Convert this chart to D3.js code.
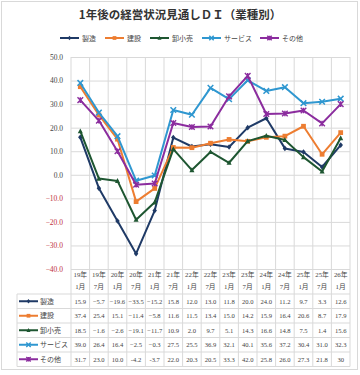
<!DOCTYPE html>
<html><head><meta charset="utf-8">
<script src="https://cdn.jsdelivr.net/npm/d3@7"></script>
<style>
html,body{margin:0;padding:0;background:#fff;}
svg{display:block;}
</style></head>
<body>
<svg id="c" width="360" height="375"></svg>
<script>
const title = "1年後の経営状況見通しＤＩ（業種別）";
const years  = ["19年","19年","20年","20年","21年","21年","22年","22年","23年","23年","24年","24年","25年","25年","26年"];
const months = ["1月","7月","1月","7月","1月","7月","1月","7月","1月","7月","1月","7月","1月","7月","1月"];
const categories = years.map((y,i)=>y+months[i]);
const seriesNames = ["製造","建設","卸小売","サービス","その他"];
const seizo    = [15.9,-5.7,-19.6,-33.5,-15.2,15.8,12.0,13.0,11.8,20.0,24.0,11.2,9.7,3.3,12.6];
const kensetsu = [37.4,25.4,15.1,-11.4,-5.8,11.6,11.5,13.4,15.0,14.2,15.9,16.4,20.6,8.7,17.9];
const oroshi   = [18.5,-1.6,-2.6,-19.1,-11.7,10.9,2.0,9.7,5.1,14.3,16.6,14.8,7.5,1.4,15.6];
const service  = [39.0,26.4,16.4,-2.5,-0.3,27.5,25.5,36.9,32.1,40.1,35.6,37.2,30.4,31.0,32.3];
const sonota   = [31.7,23.0,10.0,-4.2,-3.7,22.0,20.3,20.5,33.3,42.0,25.8,26.0,27.3,21.8,30];
const tableText = {"その他":["31.7","23.0","10.0","-4.2","-3.7","22.0","20.3","20.5","33.3","42.0","25.8","26.0","27.3","21.8","30"]};
const yTicks = [-40,-30,-20,-10,0,10,20,30,40,50];

const colors = ["#1f3a66","#ed7d31","#1e5631","#2f97d0","#8b2c9e"];
const markers = ["diamond","square","triangle","cross","star"];
const data = [seizo,kensetsu,oroshi,service,sonota];

const svg = d3.select("#c");
const serif = "'Liberation Serif','DejaVu Serif','Noto Sans CJK JP',serif";
const cjk = "'Noto Sans CJK JP',sans-serif";

// frame
svg.append("rect").attr("x",1.5).attr("y",1.5).attr("width",356).attr("height",368)
  .attr("fill","#fff").attr("stroke","#d9d9d9");

const L=71,R=350,T=57,B=269;
const x = d3.scaleBand().domain(categories).range([L,R]).padding(0);
const y = d3.scaleLinear().domain([-40,50]).range([B,T]);

// title
svg.append("text").attr("x",180).attr("y",19).attr("text-anchor","middle")
  .attr("font-family",cjk).attr("font-weight","bold").attr("font-size",11.5)
  .attr("fill","#333").text(title);

// grid horizontal via axis
const gy = svg.append("g").attr("transform",`translate(${L},0)`)
  .call(d3.axisLeft(y).tickValues(yTicks).tickFormat(d3.format(".1f")).tickSize(-(R-L)).tickPadding(8));
gy.select(".domain").remove();
gy.selectAll(".tick line").attr("stroke","#d9d9d9").attr("stroke-width",1);
gy.selectAll(".tick text").attr("font-family",serif).attr("font-size",7.5)
  .attr("fill",d=>d<0?"#c0303c":"#444");

// table geometry
const tTop=294, rowH=14.5, tLeft=17;
const tBottom = tTop + rowH*seriesNames.length;

// vertical grid lines (plot + table)
const bounds = categories.map(c=>x(c)).concat([R]);
svg.append("g").selectAll("line").data(bounds).join("line")
  .attr("x1",d=>d).attr("x2",d=>d).attr("y1",T).attr("y2",tBottom)
  .attr("stroke","#d9d9d9");

// table horizontal lines
const hl = d3.range(seriesNames.length+1).map(i=>tTop+i*rowH);
svg.append("g").selectAll("line").data(hl).join("line")
  .attr("x1",tLeft).attr("x2",R).attr("y1",d=>d).attr("y2",d=>d).attr("stroke","#d9d9d9");
svg.append("line").attr("x1",tLeft).attr("x2",tLeft).attr("y1",tTop).attr("y2",tBottom).attr("stroke","#d9d9d9");

// header labels
const hdr = svg.append("g").attr("font-family",serif).attr("font-size",6.8).attr("fill","#444").attr("text-anchor","middle");
hdr.selectAll("text.y").data(categories).join("text").attr("class","y")
  .attr("x",c=>x(c)+x.bandwidth()/2).attr("y",277).text((c,i)=>years[i]);
hdr.selectAll("text.m").data(categories).join("text").attr("class","m")
  .attr("x",c=>x(c)+x.bandwidth()/2).attr("y",289).text((c,i)=>months[i]);

// marker drawing
function drawMarker(g, type, color, cx, cy, s){
  if(type==="diamond"){
    g.append("path").attr("d",`M${cx},${cy-s}L${cx+s*0.8},${cy}L${cx},${cy+s}L${cx-s*0.8},${cy}Z`).attr("fill",color);
  } else if(type==="square"){
    g.append("rect").attr("x",cx-s*0.85).attr("y",cy-s*0.85).attr("width",s*1.7).attr("height",s*1.7).attr("fill",color);
  } else if(type==="triangle"){
    g.append("path").attr("d",`M${cx},${cy-s}L${cx+s*0.9},${cy+s*0.75}L${cx-s*0.9},${cy+s*0.75}Z`).attr("fill",color);
  } else if(type==="cross"){
    g.append("path").attr("d",`M${cx-s},${cy-s}L${cx+s},${cy+s}M${cx-s},${cy+s}L${cx+s},${cy-s}`).attr("stroke",color).attr("stroke-width",1.5);
  } else {
    g.append("path").attr("d",`M${cx-s},${cy-s}L${cx+s},${cy+s}M${cx-s},${cy+s}L${cx+s},${cy-s}M${cx},${cy-s}L${cx},${cy+s}`).attr("stroke",color).attr("stroke-width",1.4);
  }
}

// lines
const line = d3.line().x((d,i)=>x(categories[i])+x.bandwidth()/2).y(d=>y(d));
data.forEach((vals,si)=>{
  const g = svg.append("g");
  g.append("path").datum(vals).attr("d",line).attr("fill","none")
    .attr("stroke",colors[si]).attr("stroke-width",2).attr("stroke-linejoin","round");
  vals.forEach((v,i)=>drawMarker(g,markers[si],colors[si],x(categories[i])+x.bandwidth()/2,y(v),2.8));
});

// legend
const legX = [60,105,150,202,260];
seriesNames.forEach((n,i)=>{
  const g = svg.append("g");
  g.append("line").attr("x1",legX[i]).attr("x2",legX[i]+19).attr("y1",38).attr("y2",38)
    .attr("stroke",colors[i]).attr("stroke-width",2);
  drawMarker(g,markers[i],colors[i],legX[i]+9.5,38,2.2);
  g.append("text").attr("x",legX[i]+22).attr("y",40.5).attr("font-family",cjk).attr("font-size",7)
    .attr("fill","#444").text(n);
});

// table rows
const fmt = d3.format(".1f");
seriesNames.forEach((n,si)=>{
  const cy = tTop + rowH*si + rowH/2;
  const g = svg.append("g");
  g.append("line").attr("x1",19).attr("x2",38).attr("y1",cy).attr("y2",cy)
    .attr("stroke",colors[si]).attr("stroke-width",2);
  drawMarker(g,markers[si],colors[si],28.5,cy,2.2);
  g.append("text").attr("x",40).attr("y",cy+2.5).attr("font-family",cjk).attr("font-size",7)
    .attr("fill","#444").text(n);
  const texts = tableText[n] || data[si].map(fmt);
  g.selectAll("text.v").data(texts).join("text").attr("class","v")
    .attr("x",(d,i)=>x(categories[i])+x.bandwidth()/2).attr("y",cy+2.5)
    .attr("text-anchor","middle").attr("font-family",serif).attr("font-size",6.6).attr("fill","#444")
    .text(d=>d);
});
</script>
</body></html>
